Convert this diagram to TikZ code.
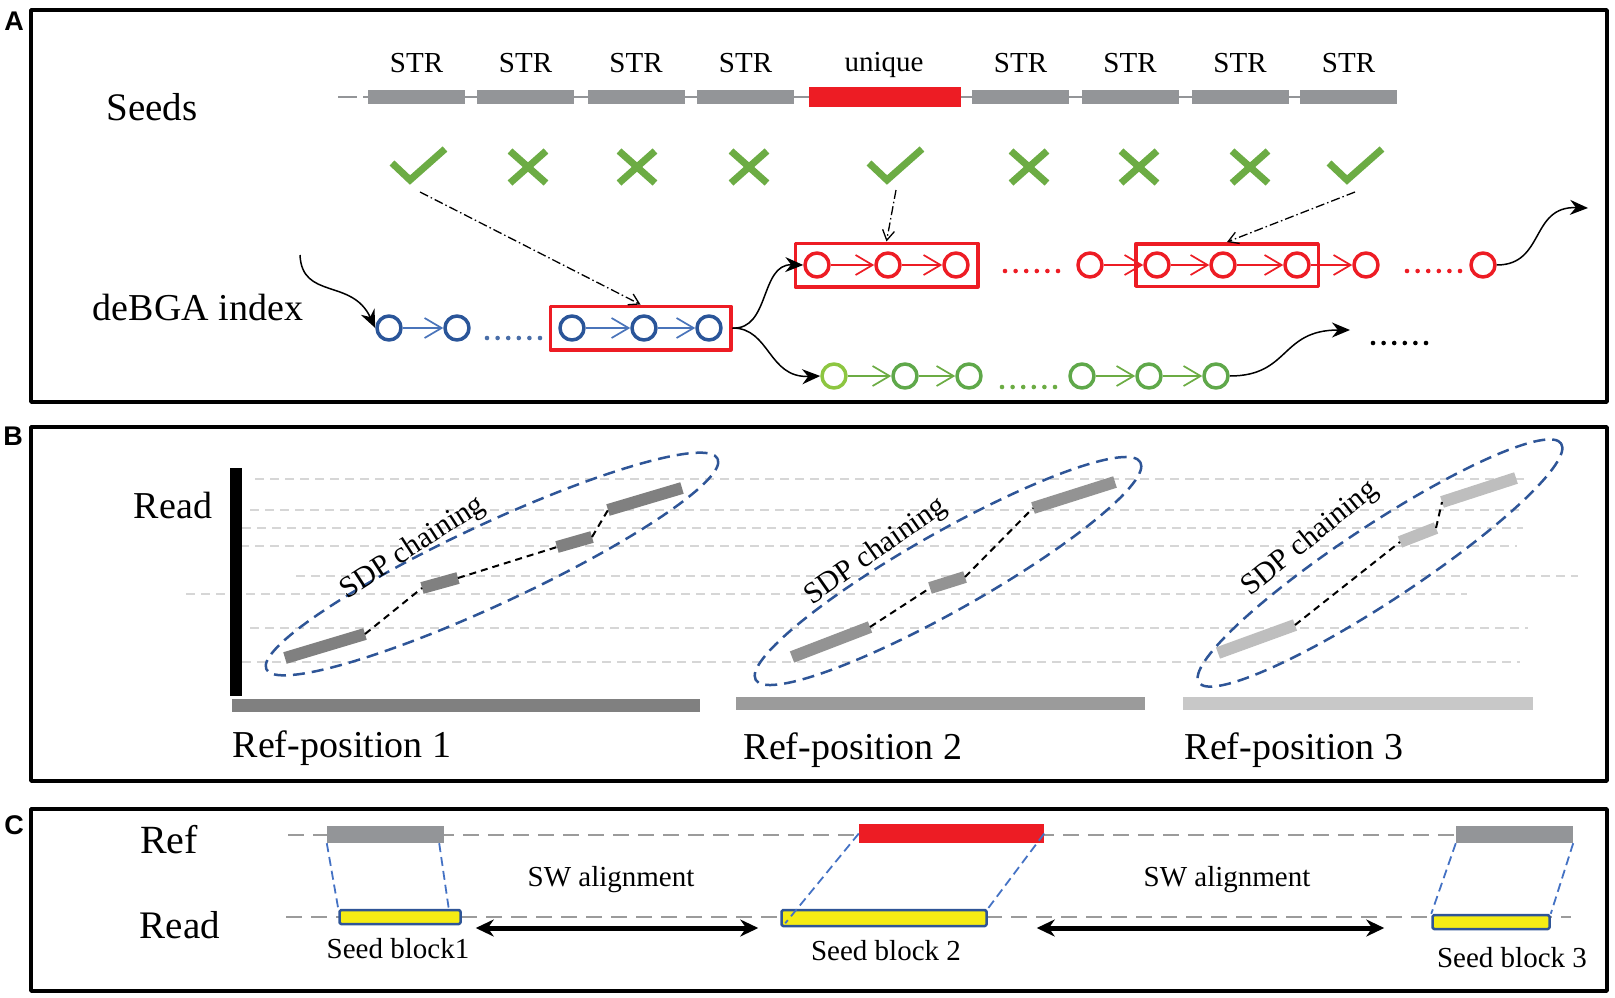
\documentclass[tikz,border=0pt]{standalone}
\usepackage{fontspec}
\setmainfont{Liberation Serif}
\newfontfamily\panelfont{Liberation Sans}
\usetikzlibrary{arrows.meta,fit}
\definecolor{seedgray}{RGB}{147,149,152}
\definecolor{uniqred}{RGB}{237,28,36}
\definecolor{okgreen}{RGB}{108,172,68}
\definecolor{nodeblue}{RGB}{42,85,153}
\definecolor{arrblue}{RGB}{74,116,186}
\definecolor{ltgreen}{RGB}{141,198,65}
\definecolor{dkgreen}{RGB}{95,168,74}
\definecolor{ellblue}{RGB}{46,85,151}
\definecolor{hgray}{RGB}{214,214,214}
\definecolor{refA}{RGB}{128,128,128}
\definecolor{refB}{RGB}{155,155,155}
\definecolor{refC}{RGB}{200,200,200}
\definecolor{swyellow}{RGB}{245,236,20}
\definecolor{edgeblue}{RGB}{47,85,151}
\definecolor{lnblue}{RGB}{68,114,196}
\newcommand\dotrow[3]{\foreach \i in {0,...,5} \fill[#1] ({#2+\i*10.6},#3) circle (2.3);}
\begin{document}
\begin{tikzpicture}[x=1pt,y=-1pt,line join=round,
  txt/.style={font=\fontsize{38}{42}\selectfont,inner sep=0pt},
  sml/.style={font=\fontsize{29}{33}\selectfont,inner sep=0pt},
  panel/.style={draw,line width=3.5pt},
  plbl/.style={font=\panelfont\bfseries\fontsize{27}{29}\selectfont,inner sep=0pt},
  seedblk/.style={fill=seedgray,minimum width=97pt,minimum height=14pt,inner sep=0pt},
  knot/.style={circle,draw,line width=3.5pt,minimum size=24pt,inner sep=0pt},
  nxt/.style={-{Straight Barb[length=17pt,width=20pt]},line width=1.7pt},
  hitbox/.style={draw=uniqred,line width=3.5pt,inner sep=8pt},
  pick/.style={-{Straight Barb[length=10pt,width=12pt]},line width=1.3pt,dash pattern=on 9pt off 3pt on 1.5pt off 3pt},
  jump/.style={-{Stealth[length=18pt,width=15pt]},line width=1.5pt},
  hline/.style={hgray,line width=2pt,dash pattern=on 9pt off 6pt},
  sbar/.style={line width=12pt},
  link/.style={line width=2pt,dash pattern=on 7pt off 5pt},
  chain/.style={ellblue,line width=2.5pt,dash pattern=on 12pt off 7pt},
  refln/.style={refB,line width=2pt,dash pattern=on 16pt off 9pt},
  yblk/.style={fill=swyellow,draw=edgeblue,line width=2.5pt,rounded corners=1.5pt,inner sep=0pt},
  tie/.style={lnblue,line width=1.8pt,dash pattern=on 9pt off 5pt},
  sw/.style={{Stealth[length=18pt,width=17pt]}-{Stealth[length=18pt,width=17pt]},line width=5pt},
  chk/.pic={\draw[okgreen,line width=7pt,line join=miter] (-26,-3) -- (-8,14) -- (27,-17);},
  crs/.pic={\draw[okgreen,line width=7pt] (-18,-16) -- (18,16) (18,-16) -- (-18,16);}]
\useasboundingbox (0,0) rectangle (1615,997);
% panels
\draw[panel] (31,10) rectangle (1607,402);
\draw[panel] (31,427) rectangle (1607,781);
\draw[panel] (31,809) rectangle (1607,991);
\node[plbl] (pa) at (14,21) {A};
\node[plbl] (pb) at (13,436) {B};
\node[plbl] (pc) at (14,825) {C};

% A: seeds
\node[txt,font=\fontsize{39}{43}\selectfont] (seeds) at (152,107) {Seeds};
\draw[seedgray,line width=2.5pt] (338,97) -- (357,97) (363,97) -- (1397,97);
\foreach \cx [count=\i] in {416.5,525.5,636,745.5}
  {\node[seedblk] (s\i) at (\cx,97) {};
   \node[sml,anchor=base] (t\i) at (\cx,72) {STR};}
\node[seedblk,fill=uniqred,minimum width=152pt,minimum height=20pt] (s5) at (885,97) {};
\node[sml,anchor=base] (t5) at (884,71) {unique};
\foreach \cx [count=\i from 6] in {1020.5,1130,1240,1348.5}
  {\node[seedblk] (s\i) at (\cx,97) {};
   \node[sml,anchor=base] (t\i) at (\cx,72) {STR};}
\foreach \mx/\i in {418/1,895/5,1355/9}
  {\coordinate (k\i) at (\mx,166); \pic at (k\i) {chk};}
\foreach \mx/\i in {528/2,637/3,749/4,1029/6,1139/7,1250/8}
  {\coordinate (k\i) at (\mx,167); \pic at (k\i) {crs};}

% A: deBGA index
\node[txt] (dbg) at (198,307) {deBGA index};
\foreach \cx [count=\i] in {389,457,572,644,709}
  \node[knot,draw=nodeblue] (b\i) at (\cx,328) {};
\foreach \a/\b in {1/2,3/4,4/5} \draw[nxt,arrblue] (b\a) -- (b\b);
\dotrow{nodeblue!85}{487}{338}
\node[hitbox,fit=(b3)(b5)] (bb) {};

\foreach \cx [count=\i] in {817,888,956,1090,1157,1223,1297,1366,1483}
  \node[knot,draw=uniqred] (r\i) at (\cx,265) {};
\foreach \a/\b in {1/2,2/3,4/5,5/6,6/7,7/8} \draw[nxt,uniqred] (r\a) -- (r\b);
\dotrow{uniqred}{1005}{271}
\dotrow{uniqred}{1407}{271}
\node[hitbox,fit=(r1)(r3)] (rb1) {};
\node[hitbox,inner sep=7.5pt,fit=(r5)(r7)] (rb2) {};

\foreach \cx/\cc [count=\i] in {834/ltgreen,905/dkgreen,969/dkgreen,1082/dkgreen,1149/dkgreen,1216/dkgreen}
  \node[knot,draw=\cc] (g\i) at (\cx,376) {};
\foreach \a/\b in {1/2,2/3,4/5,5/6} \draw[nxt,okgreen] (g\a) -- (g\b);
\dotrow{okgreen}{1002}{387}
\dotrow{black}{1373}{343}

% seeds hit the index
\draw[pick] ([xshift=2pt,yshift=-26pt]k1) -- (bb.north);
\draw[pick] ([xshift=1pt,yshift=-24pt]k5) -- (rb1.north);
\draw[pick] ([yshift=-26pt]k9) -- (rb2.north);

\coordinate (cin) at (300,255);
\coordinate (cup) at (1588,208);
\coordinate (cdn) at (1350,330);
\draw[jump] (cin) .. controls (302,300) and (352,278) .. (b1.west);
\draw[jump] (bb.east) .. controls (770,330) and (760,264) .. (r1.west);
\draw[jump] (bb.east) .. controls (770,328) and (768,378) .. (g1.west);
\draw[jump] (r9.east) .. controls (1545,265) and (1530,206) .. (cup);
\draw[jump] (g6.east) .. controls (1290,376) and (1280,330) .. (cdn);

% B: SDP chaining
\foreach \gy/\ga/\gb in {479/255/1525,510/250/1523,528/242/1523,546/240/1517,576/296/1578,594/186/1467,628/250/1528,662/242/1520}
  \draw[hline] (\ga,\gy) -- (\gb,\gy);
\fill (230,468) rectangle (242,696);
\node[txt] (rd) at (173,505) {Read};
\fill[refA] (232,699) rectangle (700,712);
\fill[refB] (736,697) rectangle (1145,710);
\fill[refC] (1183,697) rectangle (1533,710);
\node[txt] (rp1) at (342,748) {Ref-position 1};
\node[txt] (rp2) at (853,750) {Ref-position 2};
\node[txt] (rp3) at (1294,750) {Ref-position 3};

\draw[chain,rotate around={25:(492,564)}] (492,564) ellipse [x radius=249,y radius=40];
\draw[chain,rotate around={29.5:(948,571)}] (948,571) ellipse [x radius=221,y radius=39];
\draw[chain,rotate around={33.4:(1380,563)}] (1380,563) ellipse [x radius=217,y radius=38];

\foreach \n/\xa/\ya/\xb/\yb in {ca1/285/658/365/634,ca2/422/588/458/578,ca3/557/547/592/537,ca4/608/510/682/488}
  {\coordinate (\n s) at (\xa,\ya); \coordinate (\n e) at (\xb,\yb); \draw[sbar,refA] (\n s) -- (\n e);}
\foreach \n/\xa/\ya/\xb/\yb in {cb1/792/657/870/627,cb2/930/588/965/577,cb3/1033/508/1115/482}
  {\coordinate (\n s) at (\xa,\ya); \coordinate (\n e) at (\xb,\yb); \draw[sbar,refB!95!black] (\n s) -- (\n e);}
\foreach \n/\xa/\ya/\xb/\yb in {cc1/1218/653/1295/625,cc2/1400/542/1436/528,cc3/1442/502/1516/478}
  {\coordinate (\n s) at (\xa,\ya); \coordinate (\n e) at (\xb,\yb); \draw[sbar,refC!95!black] (\n s) -- (\n e);}
\draw[link] (ca1e) -- (ca2s) (ca2e) -- (ca3s) (ca3e) -- (ca4s);
\draw[link] (cb1e) -- (cb2s) (cb2e) -- (cb3s);
\draw[link] (cc1e) -- (cc2s) (cc2e) -- (cc3s);
\node[sml,font=\fontsize{30}{34}\selectfont,rotate=33] (sdp1) at (413,548) {SDP chaining};
\node[sml,font=\fontsize{30}{34}\selectfont,rotate=35] (sdp2) at (876,552) {SDP chaining};
\node[sml,font=\fontsize{30}{34}\selectfont,rotate=39] (sdp3) at (1310,539) {SDP chaining};

% C: SW alignment
\draw[refln] (288,835) -- (1571,835);
\draw[refln] (286,917) -- (1571,917);
\node[txt,font=\fontsize{40}{44}\selectfont] (cref) at (169,840) {Ref};
\node[txt,font=\fontsize{39}{43}\selectfont] (cread) at (180,925) {Read};
\node[fill=seedgray,inner sep=0pt,minimum width=117pt,minimum height=17pt] (cr1) at (385.5,834.5) {};
\node[fill=uniqred,inner sep=0pt,minimum width=185pt,minimum height=19pt] (cr2) at (951.5,833.5) {};
\node[fill=seedgray,inner sep=0pt,minimum width=117pt,minimum height=17pt] (cr3) at (1514.5,834.5) {};
\node[yblk,minimum width=121pt,minimum height=14pt] (cy1) at (400,917) {};
\node[yblk,minimum width=205pt,minimum height=16pt] (cy2) at (884,918) {};
\node[yblk,minimum width=117pt,minimum height=14pt] (cy3) at (1491,922) {};
\draw[tie] (cr1.south west) -- (cy1.north west);
\draw[tie] ([xshift=-5pt]cr1.south east) -- ([xshift=-13pt]cy1.north east);
\draw[tie] (cr2.west) -- ([xshift=5pt,yshift=4pt]cy2.south west);
\draw[tie] (cr2.east) -- (cy2.north east);
\draw[tie] (cr3.south west) -- (cy3.north west);
\draw[tie] (cr3.south east) -- (cy3.north east);
\draw[sw] ([xshift=14pt,yshift=-11pt]cy1.east) -- ([xshift=-22pt,yshift=-10pt]cy2.west);
\draw[sw] ([xshift=49pt,yshift=-10pt]cy2.east) -- ([xshift=-47pt,yshift=-6pt]cy3.west);
\node[sml] (swa) at (611,880) {SW alignment};
\node[sml] (swb) at (1227,880) {SW alignment};
\node[sml] (sb1) at (398,949) {Seed block1};
\node[sml] (sb2) at (886,951) {Seed block 2};
\node[sml] (sb3) at (1512,958) {Seed block 3};
\end{tikzpicture}
\end{document}
